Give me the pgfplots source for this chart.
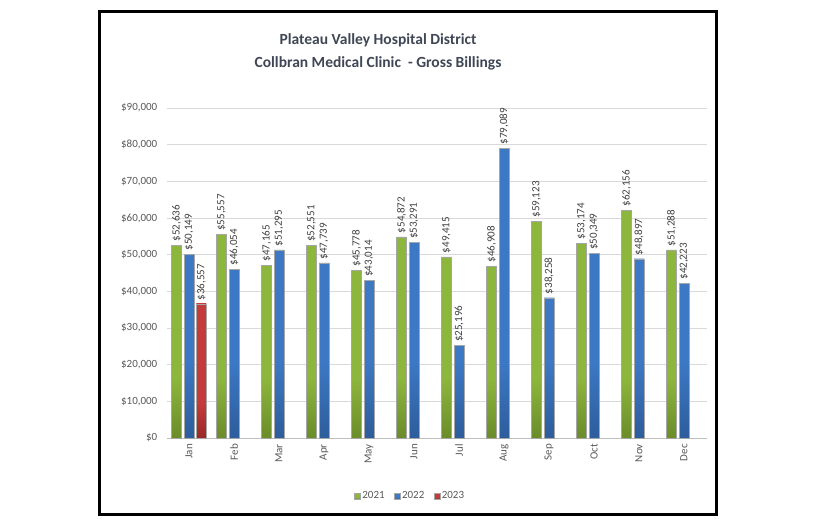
\documentclass[border=0pt]{standalone}
\usepackage{fontspec}
\setmainfont{Carlito}
\usepackage{pgfplots}
\pgfplotsset{compat=1.18}
\definecolor{gA}{HTML}{8DB63C}
\definecolor{gD}{HTML}{6A8C2A}
\definecolor{bA}{HTML}{3C78C3}
\definecolor{bD}{HTML}{2D5D9C}
\definecolor{rA}{HTML}{C53A3A}
\definecolor{rD}{HTML}{992828}
\definecolor{titlec}{HTML}{3F4756}
\definecolor{tickc}{HTML}{595959}
\definecolor{labc}{HTML}{404040}
\pgfdeclareverticalshading{greenbar}{100bp}{color(0bp)=(gD); color(25bp)=(gD); color(38bp)=(gA); color(100bp)=(gA)}
\pgfdeclareverticalshading{bluebar}{100bp}{color(0bp)=(bD); color(25bp)=(bD); color(38bp)=(bA); color(100bp)=(bA)}
\pgfdeclareverticalshading{redbar}{100bp}{color(0bp)=(rD); color(25bp)=(rD); color(38bp)=(rA); color(100bp)=(rA)}
\begin{document}
\begin{tikzpicture}
\fill[white] (0pt,0pt) rectangle (816pt,528pt);
\draw[line width=3pt] (99.5pt,13.5pt) rectangle (716.5pt,516.5pt);
\node[font=\fontsize{15.5}{18}\selectfont\bfseries, text=titlec] at (378pt,488pt) {Plateau Valley Hospital District};
\node[font=\fontsize{15.5}{18}\selectfont\bfseries, text=titlec] at (378pt,465pt) {Collbran Medical Clinic\ \ - Gross Billings};
\pgfkeys{/pgf/number format/.cd,fixed,precision=0,1000 sep={,},assume math mode=true}
\begin{axis}[
  at={(166.5pt,90pt)}, anchor=south west,
  scale only axis, width=540pt, height=330pt,
  xmin=-0.5, xmax=11.5, ymin=0, ymax=90000,
  ybar=2.4pt, bar width=10pt,
  ytick={0,10000,...,90000},
  scaled y ticks=false,
  yticklabel={\$\pgfmathprintnumber{\tick}},
  yticklabel style={anchor=east, inner sep=0pt, xshift=-9pt, font=\fontsize{11}{13}\selectfont, text=tickc},
  xtick={0,...,11},
  xticklabels={Jan,Feb,Mar,Apr,May,Jun,Jul,Aug,Sep,Oct,Nov,Dec},
  xticklabel style={rotate=90, anchor=east, inner sep=0pt, xshift=-6pt, font=\fontsize{11}{13}\selectfont, text=tickc},
  major tick length=0pt,
  axis lines*=left,
  separate axis lines,
  x axis line style={-, draw=black!25, line width=0.8pt},
  y axis line style={draw=none},
  ymajorgrids, grid style={draw=black!15, line width=0.8pt},
  nodes near coords={\$\pgfmathprintnumber{\pgfplotspointmeta}},
  nodes near coords style={rotate=90, anchor=west, inner sep=3.5pt, font=\fontsize{11}{13}\selectfont, text=labc},
  legend columns=3,
  legend style={draw=none, fill=none, at={(0.451,-0.176)}, anchor=center, font=\fontsize{11}{13}\selectfont, text=tickc, /tikz/every even column/.append style={column sep=8pt}, nodes={inner sep=1.5pt}},
  legend image code/.code={\draw[#1] (0pt,-3pt) rectangle (6pt,3pt);},
]
\addplot[draw=black!35, line width=0.4pt, shading=greenbar] coordinates {
(0,52636) (1,55557) (2,47165) (3,52551) (4,45778) (5,54872)
(6,49415) (7,46908) (8,59123) (9,53174) (10,62156) (11,51288)};
\addplot[draw=black!35, line width=0.4pt, shading=bluebar] coordinates {
(0,50149) (1,46054) (2,51295) (3,47739) (4,43014) (5,53291)
(6,25196) (7,79089) (8,38258) (9,50349) (10,48897) (11,42223)};
\addplot[draw=black!35, line width=0.4pt, shading=redbar] coordinates {(0,36557)};
\legend{2021,2022,2023}
\end{axis}
\end{tikzpicture}
\end{document}
